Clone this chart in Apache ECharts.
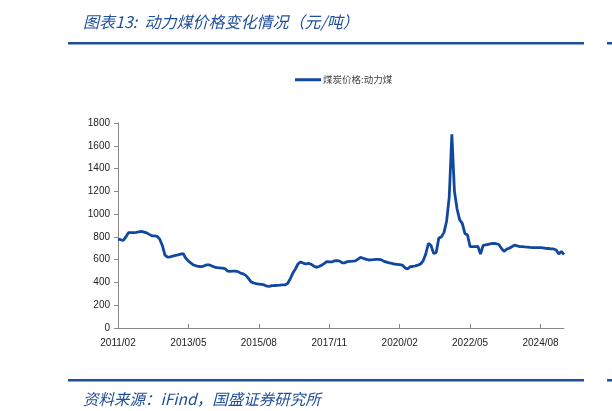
<!DOCTYPE html>
<html>
<head>
<meta charset="utf-8">
<script src="https://cdn.jsdelivr.net/npm/echarts@6/dist/echarts.min.js"></script>
<style>
html,body{margin:0;padding:0;background:#fff;}
#c{width:612px;height:411px;}
</style>
</head>
<body>
<div id="c"></div>
<script>
// Monthly categories 2011/02 .. 2025/05
const months = [];
for (let y = 2011, m = 2; y < 2025 || (y === 2025 && m <= 5); ) {
  months.push(y + '/' + (m < 10 ? '0' + m : m));
  m++; if (m > 12) { m = 1; y++; }
}
// 动力煤价格 (元/吨)
const coalPrice = [
  780,775,768,800,837,838,838,840,845,848,842,
  835,822,810,808,805,780,725,640,622,625,632,638,
  642,648,652,612,588,570,553,545,540,538,545,555,
  555,545,535,530,528,526,522,500,498,500,500,495,
  482,475,462,436,405,395,389,386,383,378,368,365,
  372,373,375,376,378,378,390,430,480,518,562,580,
  570,562,568,560,545,533,540,550,565,582,581,580,
  590,592,588,572,572,583,585,587,590,605,620,612,
  605,597,598,600,602,603,598,585,578,572,568,560,
  558,556,553,530,518,538,540,545,552,562,590,650,
  742,725,656,662,790,800,840,940,1150,1700,1200,1045,
  950,919,830,817,714,714,715,716,650,725,730,735,
  740,744,740,733,700,672,692,700,714,728,722,715,
  714,712,711,708,706,705,705,705,703,700,698,695,
  694,685,650,672,645
];
const yTicks = [0,200,400,600,800,1000,1200,1400,1600,1800];
const titleText = '图表13:  动力煤价格变化情况（元/吨）';
const sourceText = '资料来源：iFind，国盛证券研究所';
const seriesName = '煤炭价格:动力煤';

const chart = echarts.init(document.getElementById('c'), null, {renderer: 'canvas'});
const blue = '#1048A0';
chart.setOption({
  animation: false,
  backgroundColor: '#fff',
  title: [
    {text: titleText, left: 78, top: 9,
     textStyle: {color: '#1F4E9A', fontSize: 16, fontStyle: 'italic', fontWeight: 'normal',
                 fontFamily: '"Noto Sans CJK SC", sans-serif'}},
    {text: sourceText, left: 78, top: 386,
     textStyle: {color: '#1F4E9A', fontSize: 15.5, fontStyle: 'italic', fontWeight: 'normal',
                 fontFamily: '"Noto Sans CJK SC", sans-serif'}}
  ],
  graphic: [
    {type: 'rect', shape: {x: 68, y: 42, width: 516, height: 2.5}, style: {fill: '#1F4E9A'}},
    {type: 'rect', shape: {x: 607, y: 42, width: 5, height: 2.5}, style: {fill: '#1F4E9A'}},
    {type: 'rect', shape: {x: 68, y: 379, width: 516, height: 2.5}, style: {fill: '#1F4E9A'}},
    {type: 'rect', shape: {x: 607, y: 379, width: 5, height: 2.5}, style: {fill: '#1F4E9A'}}
  ],
  legend: {
    data: [seriesName], top: 70, left: 290,
    itemWidth: 26, itemHeight: 3, itemGap: 4,
    icon: 'rect',
    textStyle: {color: '#444', fontSize: 9.5, fontFamily: '"Noto Sans CJK SC", sans-serif', padding: [0,0,0,-3]}
  },
  grid: {left: 118, right: 48, top: 123, bottom: 83, containLabel: false},
  xAxis: {
    type: 'category', data: months, boundaryGap: false,
    axisLine: {lineStyle: {color: '#888', width: 1}},
    axisTick: {inside: true, length: 4, interval: 26, lineStyle: {color: '#888'}},
    axisLabel: {interval: 26, color: '#222', fontSize: 10, margin: 10, fontFamily: '"Liberation Sans", Arial, sans-serif'},
    splitLine: {show: false}
  },
  yAxis: {
    type: 'value', min: 0, max: 1800, interval: 200,
    axisLine: {show: true, lineStyle: {color: '#888', width: 1}},
    axisTick: {show: true, length: 4, lineStyle: {color: '#888'}},
    axisLabel: {color: '#222', fontSize: 10, margin: 8, fontFamily: '"Liberation Sans", Arial, sans-serif',
                formatter: v => yTicks.includes(v) ? String(v) : ''},
    splitLine: {show: false}
  },
  series: [{
    name: seriesName, type: 'line', data: coalPrice,
    showSymbol: false, symbol: 'none',
    lineStyle: {color: blue, width: 2.8},
    itemStyle: {color: blue}
  }]
});
</script>
</body>
</html>
